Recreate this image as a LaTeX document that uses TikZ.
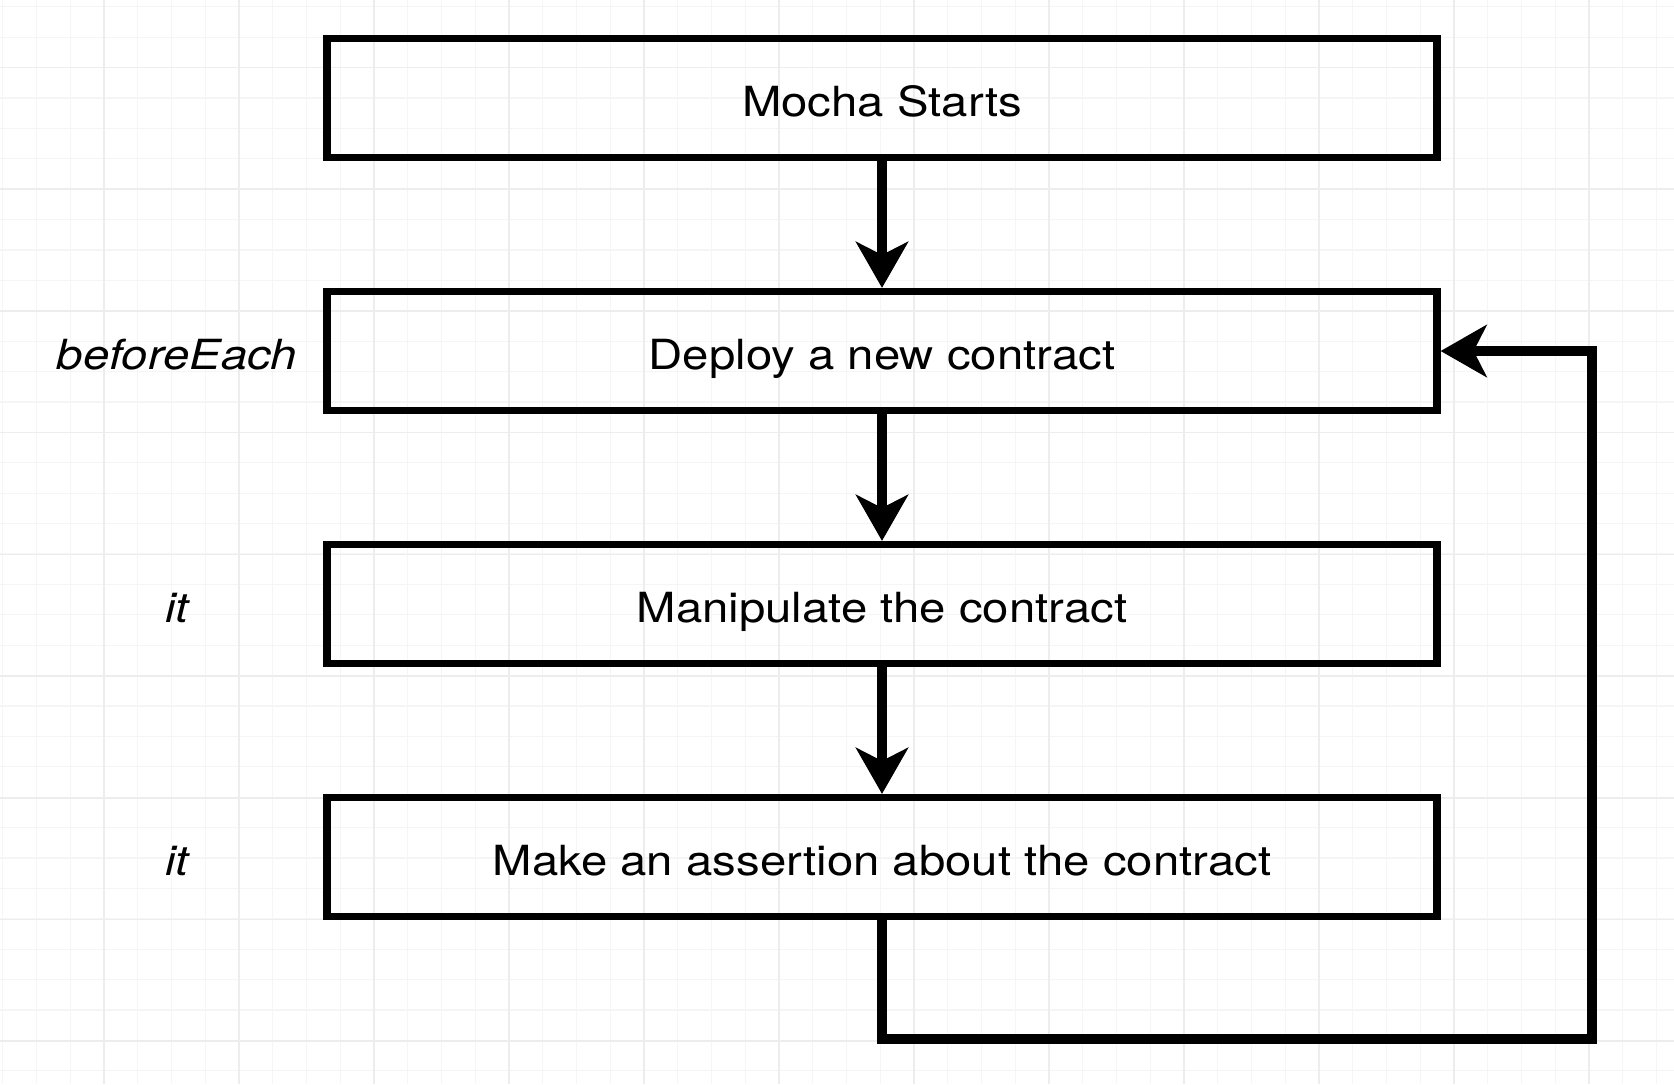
\documentclass[tikz,border=0pt]{standalone}
\usepackage{fontspec}
\setmainfont{TeX Gyre Heros}[FakeStretch=1.14]
\usetikzlibrary{arrows.meta}

\begin{document}
\begin{tikzpicture}[x=0.5pt,y=-0.5pt,>={Stealth[length=23pt,width=26pt,inset=6.5pt]},node distance=126.5pt,
  box/.style={draw,line width=3.6pt,minimum width=555pt,minimum height=59.5pt,inner sep=0pt,text height=18pt,text depth=0pt,font=\fontsize{20.75}{25}\selectfont},
  tag/.style={text height=18pt,text depth=0pt,font=\fontsize{20.75}{25}\selectfont\itshape},
  flow/.style={->,line width=4.8pt}]
  \useasboundingbox (0,0) rectangle (1674,1084);
  % grid
  \foreach \i in {0,...,49} \draw[black!4,line width=0.6pt] ({2.75+33.75*\i},0) -- ({2.75+33.75*\i},1084);
  \foreach \j in {0,...,35} \draw[black!4,line width=0.6pt] (0,{6.7+30.4*\j}) -- (1674,{6.7+30.4*\j});
  \foreach \i in {0,...,11} \draw[black!7,line width=0.8pt] ({104+135*\i},0) -- ({104+135*\i},1084);
  \foreach \j in {0,...,8} \draw[black!7,line width=0.8pt] (0,{67.5+121.7*\j}) -- (1674,{67.5+121.7*\j});

  \node [box] (start) at (882,98) {Mocha Starts};
  \node [box,below of=start] (deploy) {Deploy a new contract};
  \node [box,below of=deploy] (manip) {Manipulate the contract};
  \node [box,below of=manip] (assert) {Make an assertion about the contract};

  \node [tag] (be) at (177,351) {beforeEach};
  \node [tag] (it1) at (177,604) {it};
  \node [tag] (it2) at (177,857) {it};

  \coordinate (loop) at (1592,1039);

  \draw[flow] (start) -- (deploy);
  \draw[flow] (deploy) -- (manip);
  \draw[flow] (manip) -- (assert);
  \draw[flow] (assert.south) |- (loop) |- (deploy.east);

\end{tikzpicture}
\end{document}
